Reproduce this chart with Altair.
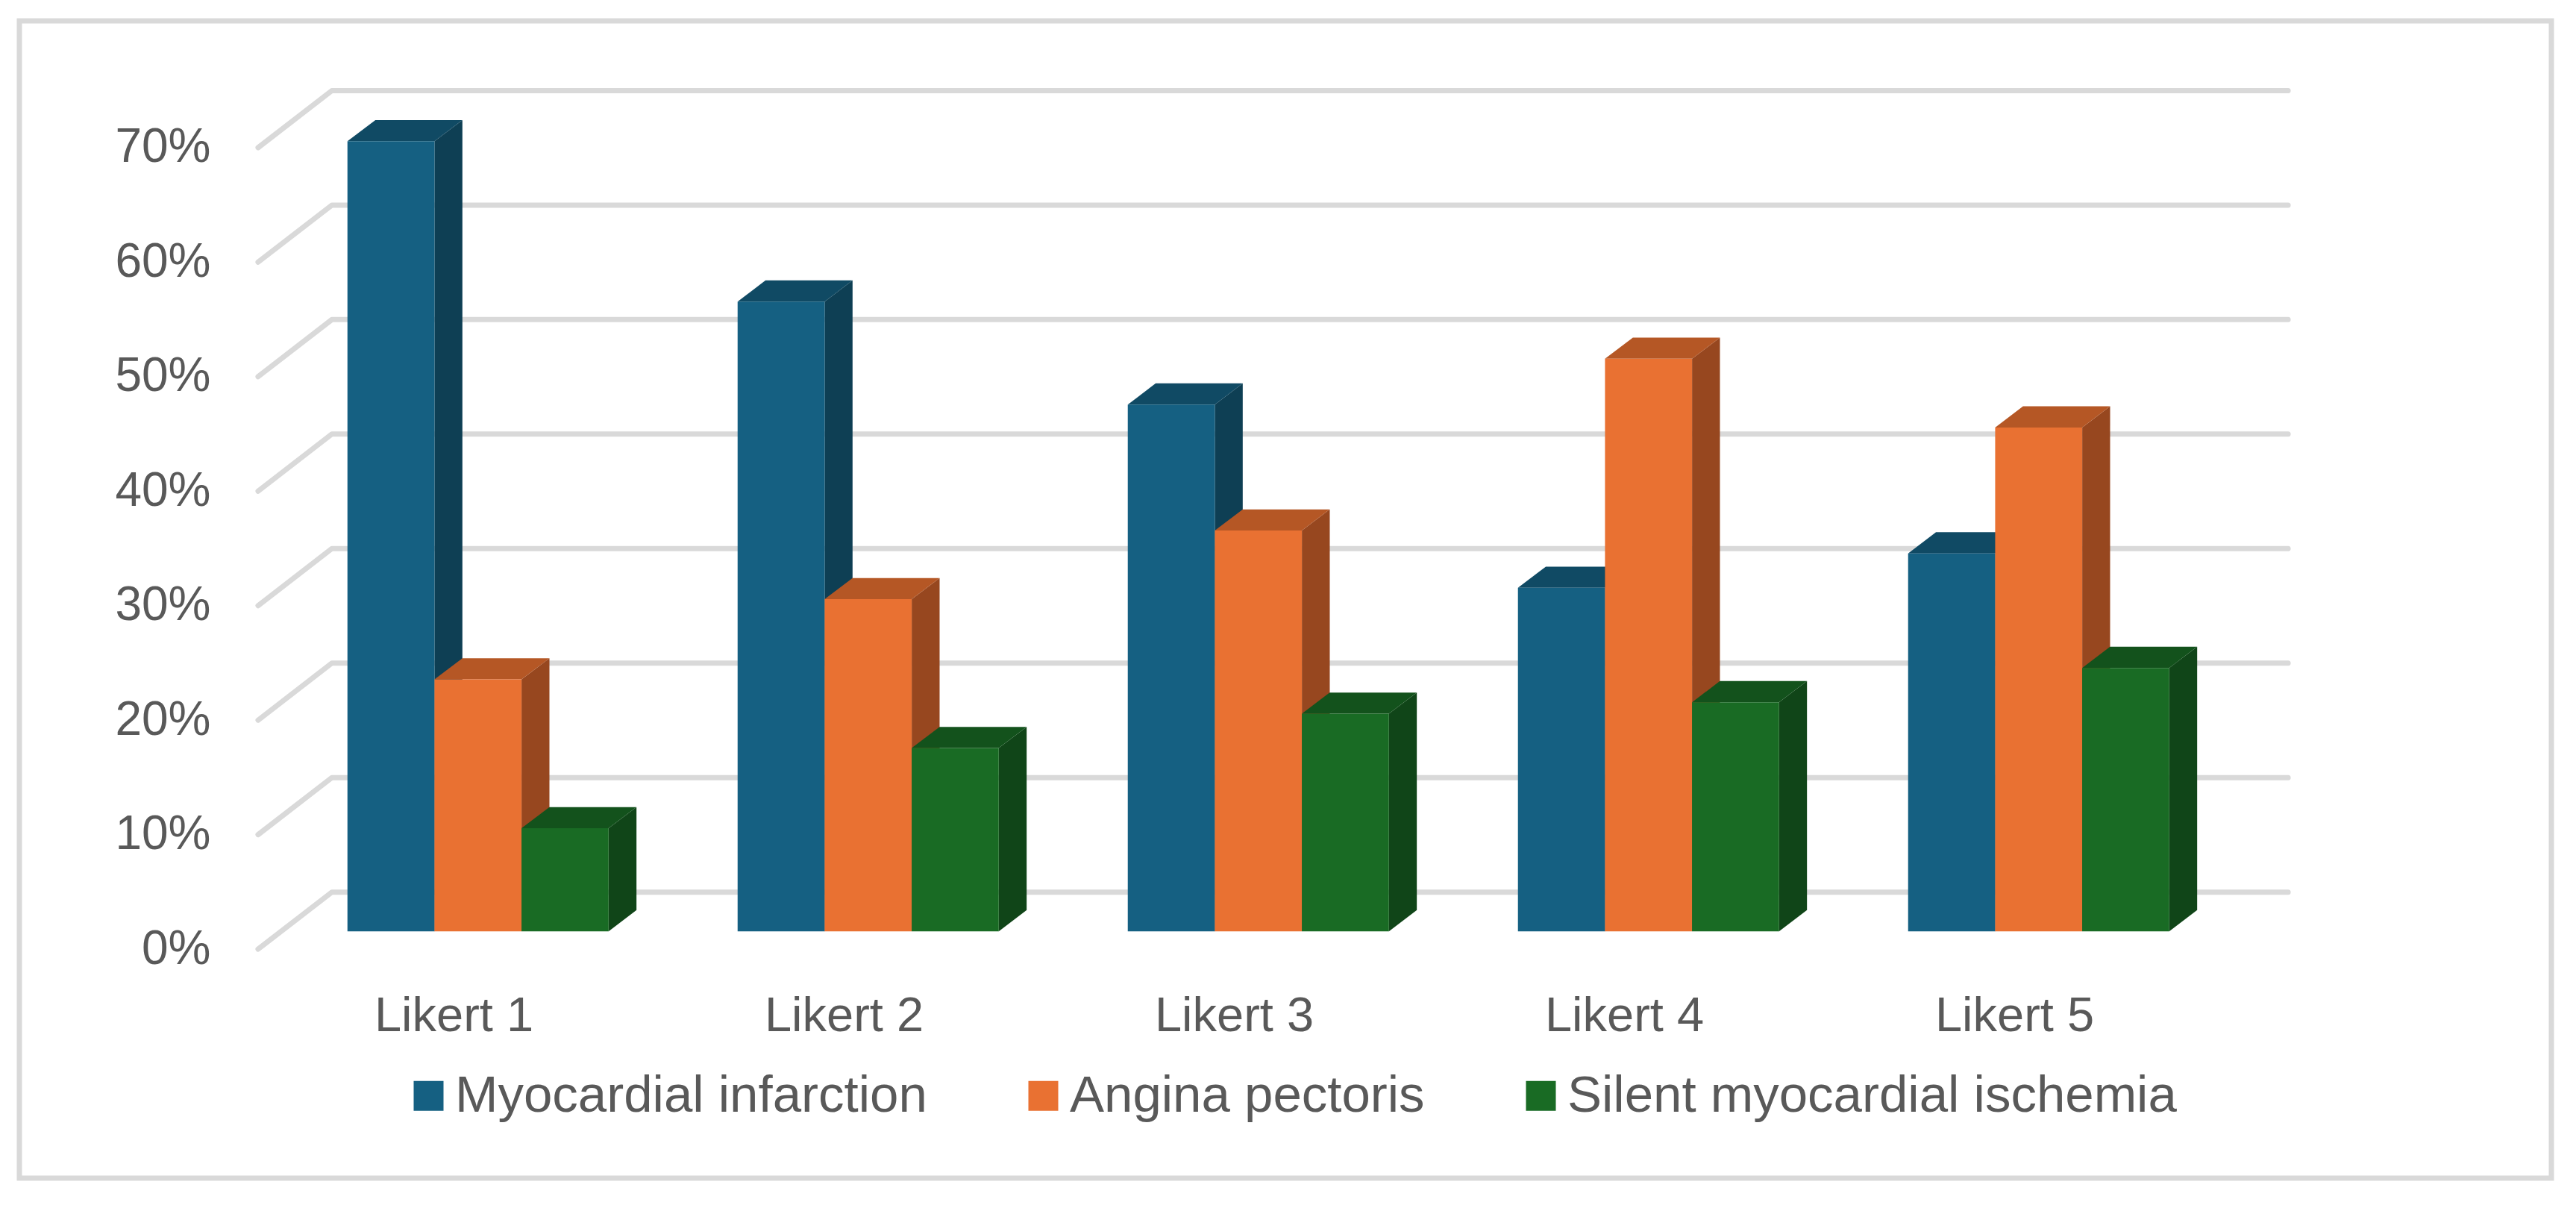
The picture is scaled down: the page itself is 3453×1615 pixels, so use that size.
import altair as alt
import pandas as pd

categories = ["Likert 1", "Likert 2", "Likert 3", "Likert 4", "Likert 5"]
series_names = ["Myocardial infarction", "Angina pectoris", "Silent myocardial ischemia"]
myocardial = [69, 55, 46, 30, 33]
angina = [22, 29, 35, 50, 44]
silent = [9, 16, 19, 20, 23]
series_values = [myocardial, angina, silent]
front_colors = ["#156082", "#E97132", "#196B24"]
side_colors = ["#0E3F54", "#97471F", "#104518"]
top_colors = ["#104A64", "#B55725", "#13521C"]
levels = [0, 10, 20, 30, 40, 50, 60, 70]

# projection constants (category units / percentage units)
BAR_W = 0.2231
DEPTH_X = 0.0715
DEPTH_Y = 1.85
GROUP_LEFT = -0.272
BASE = 1.56
WALL_DX = 0.189
WALL_DY = 4.98
FLOOR_X = -0.501
RIGHT_X = 4.702

x_scale = alt.Scale(domain=[-1.1128, 5.3767], nice=False, zero=False)
y_scale = alt.Scale(domain=[-20.0, 81.07], nice=False, zero=False)

label_array = "[" + ",".join(f"'{c}'" for c in categories) + "]"
X = alt.X("x:Q", scale=x_scale, title=None,
          axis=alt.Axis(values=list(range(len(categories))), labelExpr=f"{label_array}[datum.value]",
                        domain=False, ticks=False, grid=False, labelFontSize=65, labelColor="#595959",
                        labelFont="Liberation Sans", labelLimit=1000, labelPadding=0, labelBaseline="middle",
                        offset=-218))
Y = alt.Y("y:Q", scale=y_scale, title=None,
          axis=alt.Axis(values=levels, labelExpr="datum.value + '%'", domain=False, ticks=False, grid=False,
                        labelFontSize=64, labelColor="#595959", labelFont="Liberation Sans",
                        labelLimit=1000, labelPadding=0, offset=-256))

grid_rows = []
for lv in levels:
    for o, (gx, gy) in enumerate([(FLOOR_X, lv), (FLOOR_X + WALL_DX, lv + WALL_DY), (RIGHT_X, lv + WALL_DY)]):
        grid_rows.append({"level": lv, "o": o, "x": gx, "y": gy})
grid = alt.Chart(pd.DataFrame(grid_rows)).mark_line(color="#D9D9D9", strokeWidth=7, strokeCap="round",
                                                    strokeJoin="round").encode(
    x=X, y=Y, detail="level:N", order="o:Q")

layers = [grid]
front_rows = []
for s, (name, vals) in enumerate(zip(series_names, series_values)):
    side_rows, top_rows = [], []
    for c, v in enumerate(vals):
        x0 = c + GROUP_LEFT + s * BAR_W
        x1 = x0 + BAR_W
        t = BASE + v
        side_rows += [{"cat": c, "x": x1, "y": t, "y2": BASE},
                      {"cat": c, "x": x1 + DEPTH_X, "y": t + DEPTH_Y, "y2": BASE + DEPTH_Y}]
        top_rows += [{"cat": c, "x": x0, "y": t, "y2": t},
                     {"cat": c, "x": x0 + DEPTH_X, "y": t, "y2": t + DEPTH_Y},
                     {"cat": c, "x": x1, "y": t, "y2": t + DEPTH_Y},
                     {"cat": c, "x": x1 + DEPTH_X, "y": t + DEPTH_Y, "y2": t + DEPTH_Y}]
        front_rows.append({"series": name, "cat": c, "x": x0, "x2": x1, "y": t, "y2": BASE, "s": s})
    layers.append(alt.Chart(pd.DataFrame(side_rows)).mark_area(color=side_colors[s]).encode(
        x=X, y=Y, y2="y2:Q", detail="cat:N"))
    layers.append(alt.Chart(pd.DataFrame(top_rows)).mark_area(color=top_colors[s]).encode(
        x=X, y=Y, y2="y2:Q", detail="cat:N"))
    df = pd.DataFrame([r for r in front_rows if r["s"] == s])
    layers.append(alt.Chart(df).mark_rect().encode(
        x=X, x2="x2:Q", y=Y, y2="y2:Q",
        color=alt.Color("series:N", title=None,
                        scale=alt.Scale(domain=series_names, range=front_colors),
                        sort=series_names,
                        legend=alt.Legend(orient="none", legendX=514, legendY=1406, direction="horizontal",
                                          columns=3, columnPadding=121, padding=0, symbolType="square",
                                          symbolSize=1600, symbolStrokeWidth=0, labelFontSize=69,
                                          labelColor="#595959", labelFont="Liberation Sans", labelLimit=2000,
                                          labelOffset=1))))

chart = alt.layer(*layers).properties(
    width=3394, height=1551,
    padding={"left": 18, "top": 20, "right": 20, "bottom": 10},
    autosize=alt.AutoSizeParams(type="none"),
    background="white",
).configure_view(stroke="#D9D9D9", strokeWidth=7)

chart.save("out.html", embed_options={"renderer": "svg", "actions": False})
